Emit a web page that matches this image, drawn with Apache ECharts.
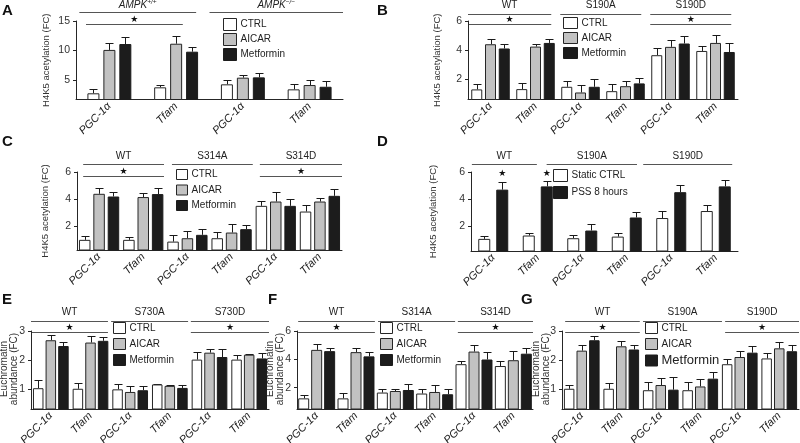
<!DOCTYPE html>
<html><head><meta charset="utf-8">
<script src="https://cdn.jsdelivr.net/npm/echarts@6/dist/echarts.min.js"></script>
<style>html,body{margin:0;padding:0;background:#fff}#c{width:800px;height:443px}</style>
</head><body><div id="c"></div>
<script>
// ---------- categories / labels ----------
const catsA = ['PGC-1α','Tfam','PGC-1α','Tfam'];
const cats6 = ['PGC-1α','Tfam','PGC-1α','Tfam','PGC-1α','Tfam'];
const headersA = [['AMPK','+/+'],['AMPK','−/−']];
const headersB = ['WT','S190A','S190D'];
const headersC = ['WT','S314A','S314D'];
const headersD = ['WT','S190A','S190D'];
const headersE = ['WT','S730A','S730D'];
const headersF = ['WT','S314A','S314D'];
const headersG = ['WT','S190A','S190D'];
const ticksA = [5,10,15];
const ticks6 = [2,4,6];
const ticks3 = [1,2,3];

// ---------- Panel A ----------
const aCtrl = [2.75, 3.76, 4.27, 3.42];
const aCtrlSem = [0.65, 0.4, 0.73, 0.85];
const aAicar = [10.1, 11.15, 5.4, 4.15];
const aAicarSem = [1.1, 1.3, 0.45, 0.8];
const aMet = [11.1, 9.8, 5.45, 3.86];
const aMetSem = [1.2, 0.85, 0.8, 0.92];
// ---------- Panel B ----------
const bCtrl = [1.32, 1.34, 1.5, 1.2, 3.66, 3.95];
const bCtrlSem = [0.36, 0.39, 0.4, 0.48, 0.46, 0.32];
const bAicar = [4.41, 4.25, 1.11, 1.54, 4.23, 4.5];
const bAicarSem = [0.39, 0.21, 0.48, 0.36, 0.5, 0.57];
const bMet = [4.12, 4.5, 1.5, 1.73, 4.46, 3.88];
const bMetSem = [0.34, 0.3, 0.52, 0.38, 0.5, 0.62];
// ---------- Panel C ----------
const cCtrl = [0.99, 0.99, 0.86, 1.11, 3.5, 3.08];
const cCtrlSem = [0.31, 0.24, 0.52, 0.49, 0.37, 0.45];
const cAicar = [4.39, 4.15, 1.11, 1.53, 3.82, 3.82];
const cAicarSem = [0.42, 0.29, 0.56, 0.64, 0.7, 0.25];
const cMet = [4.19, 4.37, 1.36, 1.78, 3.5, 4.24];
const cMetSem = [0.3, 0.44, 0.44, 0.32, 0.5, 0.5];
// ---------- Panel D ----------
const dStatic = [1.03, 1.28, 1.08, 1.2, 2.58, 3.1];
const dStaticSem = [0.22, 0.22, 0.22, 0.3, 0.5, 0.42];
const dPss = [4.69, 4.93, 1.65, 2.62, 4.5, 4.93];
const dPssSem = [0.57, 0.38, 0.5, 0.4, 0.56, 0.5];
// ---------- Panel E ----------
const eCtrl = [1.02, 1.0, 0.98, 1.15, 2.01, 2.01];
const eCtrlSem = [0.27, 0.21, 0.19, 0.03, 0.26, 0.15];
const eAicar = [2.68, 2.6, 0.89, 1.1, 2.25, 2.18];
const eAicarSem = [0.18, 0.22, 0.2, 0.03, 0.13, 0.03];
const eMet = [2.48, 2.66, 0.95, 1.03, 2.1, 2.05];
const eMetSem = [0.13, 0.14, 0.14, 0.09, 0.28, 0.19];
// ---------- Panel F ----------
const fCtrl = [1.25, 1.25, 1.66, 1.59, 3.66, 3.53];
const fCtrlSem = [0.22, 0.41, 0.27, 0.34, 0.23, 0.34];
const fAicar = [4.67, 4.51, 1.77, 1.7, 4.55, 3.94];
const fAicarSem = [0.41, 0.3, 0.16, 0.46, 0.48, 0.68];
const fMet = [4.58, 4.21, 1.84, 1.54, 3.99, 4.4];
const fMetSem = [0.23, 0.3, 0.45, 0.39, 0.52, 0.38];
// ---------- Panel G ----------
const gCtrl = [1.0, 1.0, 0.95, 0.95, 1.85, 2.05];
const gCtrlSem = [0.12, 0.2, 0.3, 0.28, 0.17, 0.2];
const gAicar = [2.32, 2.47, 1.13, 1.08, 2.1, 2.4];
const gAicarSem = [0.18, 0.2, 0.25, 0.25, 0.2, 0.22];
const gMet = [2.68, 2.36, 0.97, 1.35, 2.25, 2.3];
const gMetSem = [0.15, 0.15, 0.45, 0.22, 0.22, 0.2];

// ---------- styling / layout ----------
const FONT = '"Liberation Sans", Arial, Helvetica, sans-serif';
const INK = '#262626';
const STY = {
  'CTRL': {color:'#ffffff', borderColor:INK, borderWidth:1},
  'AICAR': {color:'#c2c2c2', borderColor:INK, borderWidth:1},
  'Metformin': {color:'#1c1c1c', borderColor:'#1c1c1c', borderWidth:1},
  'Static CTRL': {color:'#ffffff', borderColor:INK, borderWidth:1},
  'PSS 8 hours': {color:'#1c1c1c', borderColor:'#1c1c1c', borderWidth:1}
};
const H4 = 'H4K5 acetylation (FC)';
const EU = 'Euchromatin\nabundance (FC)';

const panels = [
  {letter:'A', lx:2, ly:3, grid:{left:76, top:21, width:267, height:78.5}, cats:catsA, min:1.7, max:15, ticks:ticksA, yName:H4, nameGap:25,
   groups:[['CTRL',aCtrl,aCtrlSem],['AICAR',aAicar,aAicarSem],['Metformin',aMet,aMetSem]], barW:12, gap:0.33,
   legend:{left:223, top:18, w:13, h:12, gap:2},
   headers:headersA, hSpans:[[0.05,1.8],[2,4]], hLineY:11.5, hTextY:4.5,
   starSpans:[[0.15,1.6]], starLineY:23.5},
  {letter:'B', lx:377, ly:3, grid:{left:468, top:21, width:270, height:78.5}, cats:cats6, min:0.63, max:6, ticks:ticks6, yName:H4, nameGap:26,
   groups:[['CTRL',bCtrl,bCtrlSem],['AICAR',bAicar,bAicarSem],['Metformin',bMet,bMetSem]], barW:11, gap:0.25,
   legend:{left:563, top:17, w:14, h:11, gap:3},
   headers:headersB, hSpans:[[0,1.85],[2.05,3.85],[4.05,5.85]], hLineY:14, hTextY:5.5,
   starSpans:[[0,1.85],[4.05,5.85]], starLineY:23.5},
  {letter:'C', lx:2, ly:134, grid:{left:77, top:172, width:265, height:78}, cats:cats6, min:0.24, max:6, ticks:ticks6, yName:H4, nameGap:27,
   groups:[['CTRL',cCtrl,cCtrlSem],['AICAR',cAicar,cAicarSem],['Metformin',cMet,cMetSem]], barW:11.5, gap:0.25,
   legend:{left:176, top:169, w:11, h:10, gap:4.5},
   headers:headersC, hSpans:[[0.14,1.97],[2.15,3.98],[4.14,6]], hLineY:164, hTextY:156.5,
   starSpans:[[0.14,1.97],[4.14,6]], starLineY:175.5},
  {letter:'D', lx:377, ly:134, grid:{left:471, top:172, width:267, height:79}, cats:cats6, min:0.13, max:6, ticks:ticks6, yName:H4, nameGap:33,
   groups:[['Static CTRL',dStatic,dStaticSem],['PSS 8 hours',dPss,dPssSem]], barW:12, gap:0.5,
   legend:{left:553, top:169, w:14, h:12, gap:4},
   headers:headersD, hSpans:[[0.02,1.48],[1.7,3.73],[3.87,5.87]], hLineY:164, hTextY:156.5,
   starSpans:[], starLineY:0, barStars:[[0,1],[1,1]], barStarY:174},
  {letter:'E', lx:2, ly:292, grid:{left:31, top:331, width:238, height:78}, cats:cats6, min:0.3, max:3, ticks:ticks3, yName:EU, nameX:9,
   groups:[['CTRL',eCtrl,eCtrlSem],['AICAR',eAicar,eAicarSem],['Metformin',eMet,eMetSem]], barW:10.5, gap:0.2,
   legend:{left:113, top:322, w:12, h:11, gap:4},
   headers:headersE, hSpans:[[0,1.94],[2.02,3.96],[4.03,6]], hLineY:320.5, hTextY:312,
   starSpans:[[0,1.94],[4.03,6]], starLineY:332},
  {letter:'F', lx:268, ly:292, grid:{left:297, top:331, width:236, height:78}, cats:cats6, min:0.5, max:6, ticks:ticks6, yName:EU, nameX:275,
   groups:[['CTRL',fCtrl,fCtrlSem],['AICAR',fAicar,fAicarSem],['Metformin',fMet,fMetSem]], barW:11, gap:0.18,
   legend:{left:380, top:322, w:12, h:11, gap:4},
   headers:headersF, hSpans:[[0.03,1.98],[2.06,4.02],[4.09,6]], hLineY:320.5, hTextY:312,
   starSpans:[[0.03,1.98],[4.09,6]], starLineY:332},
  {letter:'G', lx:521, ly:292, grid:{left:562, top:331, width:237, height:78}, cats:cats6, min:0.3, max:3, ticks:ticks3, yName:EU, nameX:541,
   groups:[['CTRL',gCtrl,gCtrlSem],['AICAR',gAicar,gAicarSem],['Metformin',gMet,gMetSem]], barW:10.5, gap:0.2,
   legend:{left:645, top:322, w:12, h:11, gap:4, bigMet:true},
   headers:headersG, hSpans:[[0.08,1.97],[2.05,4.05],[4.13,6]], hLineY:320.5, hTextY:312,
   starSpans:[[0.08,1.97],[4.13,6]], starLineY:332}
];

const grids = [], xAxes = [], yAxes = [], series = [], legends = [], graphics = [];

panels.forEach((p, gi) => {
  grids.push(Object.assign({outerBoundsMode:'none', containLabel:false}, p.grid));
  xAxes.push({type:'category', gridIndex:gi, data:p.cats,
    axisLine:{show:true, lineStyle:{color:INK, width:1}}, axisTick:{show:false},
    axisLabel:{interval:0, rotate:45, fontStyle:'italic', fontSize:11, fontFamily:FONT, color:'#222', margin:5},
    splitLine:{show:false}});
  const yAx = {type:'value', gridIndex:gi, min:p.min, max:p.max,
    axisLine:{show:true, lineStyle:{color:INK, width:1}},
    axisTick:{show:true, length:3, customValues:p.ticks, lineStyle:{color:INK}},
    axisLabel:{customValues:p.ticks, fontSize:10.5, fontFamily:FONT, color:'#333', margin:6},
    splitLine:{show:false}};
  if (p.nameX === undefined) {
    Object.assign(yAx, {name:p.yName, nameLocation:'middle', nameRotate:90, nameGap:p.nameGap,
      nameTextStyle:{fontSize:9.5, fontFamily:FONT, color:'#333'}});
  } else {
    graphics.push({type:'text', x:p.nameX, y:p.grid.top + p.grid.height/2 - 1, rotation:Math.PI/2,
      style:{text:p.yName, align:'center', verticalAlign:'middle', font:'10px '+FONT, fill:'#333', lineHeight:10.5}});
  }
  yAxes.push(yAx);
  const n = p.groups.length;
  p.groups.forEach((g, si) => {
    const [name, vals, sems] = g;
    series.push({type:'bar', name:name, xAxisIndex:gi, yAxisIndex:gi, data:vals,
      barWidth:p.barW, barGap:(p.gap*100)+'%', itemStyle:STY[name], z:3, silent:true, animation:false});
    const off = (si - (n-1)/2) * p.barW * (1 + p.gap);
    series.push({type:'custom', name:'err-'+p.letter+'-'+si, xAxisIndex:gi, yAxisIndex:gi, z:2, clip:false, animation:false, silent:true,
      data: vals.map((v,i)=>[i, v, v + sems[i]]),
      renderItem: (params, api) => {
        const b = api.coord([api.value(0), api.value(1)]);
        const t = api.coord([api.value(0), api.value(2)]);
        const x = Math.round(b[0] + off) + 0.5;
        const ty = Math.round(t[1]) + 0.5;
        const cap = 4;
        return {type:'group', children:[
          {type:'line', shape:{x1:x, y1:b[1], x2:x, y2:ty}, style:{stroke:'#1a1a1a', lineWidth:1}},
          {type:'line', shape:{x1:x-cap, y1:ty, x2:x+cap, y2:ty}, style:{stroke:'#1a1a1a', lineWidth:1}}
        ]};
      }});
  });
  // legend
  const L = p.legend;
  legends.push({orient:'vertical', left:L.left, top:L.top, itemWidth:L.w, itemHeight:L.h, itemGap:L.gap,
    icon:'rect', selectedMode:false, padding:0,
    textStyle:{fontSize:10, fontFamily:FONT, color:'#222', padding:[0,0,0,-1]},
    data:p.groups.map(g => {
      const o = {name:g[0], icon:'rect', itemStyle:STY[g[0]]};
      if (L.bigMet && g[0]==='Metformin') o.textStyle = {fontSize:13};
      return o;
    })});
  // panel letter
  graphics.push({type:'text', left:p.lx, top:p.ly, style:{text:p.letter, font:'bold 15px '+FONT, fill:'#111'}});
  // group headers
  const band = p.grid.width / p.cats.length;
  const X = u => p.grid.left + u * band;
  p.headers.forEach((h, k) => {
    const [a, b] = p.hSpans[k];
    const y = Math.round(p.hLineY) + 0.5;
    graphics.push({type:'line', shape:{x1:X(a), y1:y, x2:X(b), y2:y}, style:{stroke:'#555', lineWidth:1}});
    const cx = (X(a) + X(b)) / 2;
    if (Array.isArray(h)) {
      graphics.push({type:'text', x:cx, y:p.hTextY, style:{
        text:'{m|'+h[0]+'}{s|'+h[1]+'}', align:'center', verticalAlign:'middle',
        rich:{m:{fontSize:10, fontStyle:'italic', fontFamily:FONT, fill:'#222', verticalAlign:'bottom', lineHeight:11},
              s:{fontSize:6.5, fontStyle:'italic', fontFamily:FONT, fill:'#222', verticalAlign:'top', lineHeight:11, padding:[0,0,4,0]}}}});
    } else {
      graphics.push({type:'text', x:cx, y:p.hTextY, style:{text:h, align:'center', verticalAlign:'middle',
        font:'10px '+FONT, fill:'#222'}});
    }
  });
  p.starSpans.forEach(([a, b]) => {
    const y = Math.round(p.starLineY) + 0.5;
    graphics.push({type:'line', shape:{x1:X(a), y1:y, x2:X(b), y2:y}, style:{stroke:'#555', lineWidth:1}});
    graphics.push({type:'text', x:(X(a)+X(b))/2, y:y-4.5, style:{text:'★', align:'center', verticalAlign:'middle',
      font:'9px "DejaVu Sans", sans-serif', fill:'#111'}});
  });
  (p.barStars || []).forEach(([ci, si]) => {
    const off = (si - (n-1)/2) * p.barW * (1 + p.gap);
    graphics.push({type:'text', x:X(ci + 0.5) + off, y:p.barStarY, style:{text:'★', align:'center', verticalAlign:'middle',
      font:'9px "DejaVu Sans", sans-serif', fill:'#111'}});
  });
});

const chart = echarts.init(document.getElementById('c'), null, {renderer:'canvas'});
chart.setOption({
  animation:false,
  backgroundColor:'#ffffff',
  textStyle:{fontFamily:FONT},
  grid:grids, xAxis:xAxes, yAxis:yAxes, series:series, legend:legends, graphic:graphics
});
</script>
</body></html>
